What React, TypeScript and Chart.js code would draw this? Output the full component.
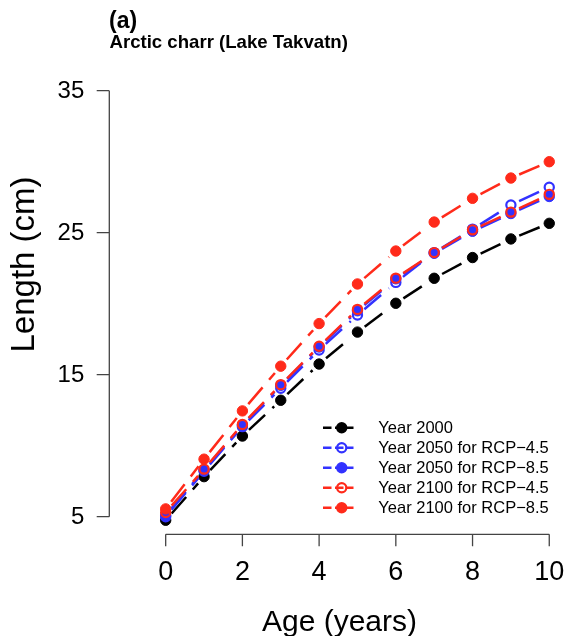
import React, { useEffect, useRef } from "react";
import { Chart, registerables } from "chart.js";

Chart.register(...registerables);

// ---------- data ----------
const ages = [0, 1, 2, 3, 4, 5, 6, 7, 8, 9, 10];
const year2000 = [4.75, 7.82, 10.68, 13.2, 15.75, 18.0, 20.03, 21.79, 23.25, 24.56, 25.66];
const year2050Rcp45 = [5.0, 8.2, 11.34, 14.04, 16.74, 19.2, 21.5, 23.6, 25.25, 26.95, 28.2];
const year2050Rcp85 = [5.1, 8.3, 11.45, 14.25, 16.95, 19.5, 21.75, 23.55, 25.1, 26.35, 27.55];
const year2100Rcp45 = [5.3, 8.35, 11.5, 14.3, 17.0, 19.6, 21.8, 23.6, 25.2, 26.45, 27.7];
const year2100Rcp85 = [5.55, 9.05, 12.45, 15.6, 18.6, 21.39, 23.71, 25.75, 27.42, 28.85, 30.0];

const seriesLabels = [
  "Year 2000",
  "Year 2050 for RCP\u22124.5",
  "Year 2050 for RCP\u22128.5",
  "Year 2100 for RCP\u22124.5",
  "Year 2100 for RCP\u22128.5",
];
const xTicks = [0, 2, 4, 6, 8, 10];
const yTicks = [5, 15, 25, 35];
const panelTag = "(a)";
const panelTitle = "Arctic charr (Lake Takvatn)";
const xTitle = "Age (years)";
const yTitle = "Length (cm)";

// ---------- style ----------
const FONT = "'Liberation Sans', Arial, Helvetica, sans-serif";
const BLACK = "#000000";
const BLUE = "#3232ff";
const RED = "#ff2a1a";
const AXIS = "#444444";
const LINE_W = 2.5;
const GAP = 9;
const DASH = [22, 10];

const seriesValues = [year2000, year2050Rcp45, year2050Rcp85, year2100Rcp45, year2100Rcp85];
const seriesColors = [BLACK, BLUE, BLUE, RED, RED];
const seriesFilled = [true, false, true, false, true];

const W = 566;
const H = 636;

function drawMarker(ctx: CanvasRenderingContext2D, x: number, y: number, color: string, filled: boolean) {
  ctx.save();
  ctx.setLineDash([]);
  ctx.beginPath();
  if (filled) {
    ctx.arc(x, y, 5.7, 0, Math.PI * 2);
    ctx.fillStyle = color;
    ctx.fill();
  } else {
    ctx.arc(x, y, 4.6, 0, Math.PI * 2);
    ctx.lineWidth = 2.2;
    ctx.strokeStyle = color;
    ctx.stroke();
  }
  ctx.restore();
}

const rPlotPlugin = {
  id: "rPlot",
  beforeDatasetDraw(chart: any, args: any) {
    const ctx: CanvasRenderingContext2D = chart.ctx;
    const pts = args.meta.data;
    const color = seriesColors[args.index];
    ctx.save();
    ctx.strokeStyle = color;
    ctx.lineWidth = LINE_W;
    ctx.lineCap = "butt";
    ctx.setLineDash(DASH);
    for (let i = 0; i < pts.length - 1; i++) {
      const a = pts[i];
      const b = pts[i + 1];
      const dx = b.x - a.x;
      const dy = b.y - a.y;
      const len = Math.hypot(dx, dy);
      if (len <= 2 * GAP) continue;
      const ux = dx / len;
      const uy = dy / len;
      ctx.lineDashOffset = 0;
      ctx.beginPath();
      ctx.moveTo(a.x + ux * GAP, a.y + uy * GAP);
      ctx.lineTo(b.x - ux * GAP, b.y - uy * GAP);
      ctx.stroke();
    }
    ctx.restore();
  },
  afterDraw(chart: any) {
    const ctx: CanvasRenderingContext2D = chart.ctx;
    const xs = chart.scales.x;
    const ys = chart.scales.y;
    const area = chart.chartArea;
    ctx.save();
    ctx.setLineDash([]);
    ctx.strokeStyle = AXIS;
    ctx.lineWidth = 1.3;

    // y axis
    const yAxisX = area.left;
    const yTop = ys.getPixelForValue(yTicks[yTicks.length - 1]);
    const yBot = ys.getPixelForValue(yTicks[0]);
    ctx.beginPath();
    ctx.moveTo(yAxisX, yTop);
    ctx.lineTo(yAxisX, yBot);
    for (const t of yTicks) {
      const py = ys.getPixelForValue(t);
      ctx.moveTo(yAxisX - 12.6, py);
      ctx.lineTo(yAxisX, py);
    }
    ctx.stroke();
    ctx.fillStyle = "#000";
    ctx.font = `24px ${FONT}`;
    ctx.textAlign = "right";
    ctx.textBaseline = "middle";
    for (const t of yTicks) {
      ctx.fillText(String(t), yAxisX - 25, ys.getPixelForValue(t) + 0.5);
    }

    // x axis
    const xAxisY = area.bottom;
    const xL = xs.getPixelForValue(xTicks[0]);
    const xR = xs.getPixelForValue(xTicks[xTicks.length - 1]);
    ctx.beginPath();
    ctx.moveTo(xL, xAxisY);
    ctx.lineTo(xR, xAxisY);
    for (const t of xTicks) {
      const px = xs.getPixelForValue(t);
      ctx.moveTo(px, xAxisY);
      ctx.lineTo(px, xAxisY + 12);
    }
    ctx.stroke();
    ctx.font = `27px ${FONT}`;
    ctx.textAlign = "center";
    ctx.textBaseline = "alphabetic";
    for (const t of xTicks) {
      ctx.fillText(String(t), xs.getPixelForValue(t), 579.5);
    }

    // axis titles
    ctx.font = `30px ${FONT}`;
    ctx.textAlign = "center";
    ctx.textBaseline = "alphabetic";
    ctx.fillText(xTitle, 339.5, 631);

    ctx.save();
    ctx.translate(25, 264.5);
    ctx.rotate(-Math.PI / 2);
    ctx.font = `33px ${FONT}`;
    ctx.textAlign = "center";
    ctx.textBaseline = "middle";
    ctx.fillText(yTitle, 0, 0);
    ctx.restore();

    // panel titles
    ctx.textAlign = "left";
    ctx.textBaseline = "alphabetic";
    ctx.font = `bold 23px ${FONT}`;
    ctx.fillText(panelTag, 109, 27.5);
    ctx.font = `bold 18.6px ${FONT}`;
    ctx.fillText(panelTitle, 109.5, 47.7);

    // legend
    for (let i = 0; i < seriesLabels.length; i++) {
      const cy = 427.7 + 20 * i;
      ctx.save();
      ctx.strokeStyle = seriesColors[i];
      ctx.lineWidth = LINE_W;
      ctx.setLineDash([8.5, 3.5]);
      ctx.beginPath();
      ctx.moveTo(323, cy);
      ctx.lineTo(353.5, cy);
      ctx.stroke();
      ctx.restore();
      drawMarker(ctx, 341.7, cy, seriesColors[i], seriesFilled[i]);
      ctx.fillStyle = "#000";
      ctx.font = `16.5px ${FONT}`;
      ctx.textAlign = "left";
      ctx.textBaseline = "middle";
      ctx.fillText(seriesLabels[i], 378.3, cy + 0.5);
    }
    ctx.restore();
  },
};

export default function App() {
  const canvasRef = useRef<HTMLCanvasElement | null>(null);

  useEffect(() => {
    const canvas = canvasRef.current;
    if (!canvas) return;
    const datasets = seriesValues.map((vals, i) => ({
      label: seriesLabels[i],
      data: ages.map((a, j) => ({ x: a, y: vals[j] })),
      showLine: false,
      borderColor: seriesColors[i],
      pointStyle: "circle",
      pointRadius: seriesFilled[i] ? 5.2 : 4.6,
      pointHoverRadius: seriesFilled[i] ? 5.2 : 4.6,
      pointBorderWidth: seriesFilled[i] ? 1 : 2.2,
      pointBackgroundColor: seriesFilled[i] ? seriesColors[i] : "rgba(0,0,0,0)",
      pointBorderColor: seriesColors[i],
      order: seriesValues.length - 1 - i,
    }));

    const chart = new Chart(canvas, {
      type: "line",
      data: { datasets },
      options: {
        animation: false,
        responsive: false,
        devicePixelRatio: 1,
        events: [],
        layout: { autoPadding: false, padding: { left: 109.3, right: 1.4, top: 83.6, bottom: 101.7 } },
        plugins: { legend: { display: false }, tooltip: { enabled: false }, title: { display: false } },
        scales: {
          x: { type: "linear", min: -1.47, max: 10.4, display: false },
          y: { type: "linear", min: 3.76, max: 35.5, display: false },
        },
      },
      plugins: [rPlotPlugin],
    } as any);

    return () => chart.destroy();
  }, []);

  return (
    <div style={{ position: "absolute", left: 0, top: 0, width: W, height: H, background: "#fff" }}>
      <canvas ref={canvasRef} width={W} height={H} style={{ width: W, height: H, display: "block" }} />
    </div>
  );
}
